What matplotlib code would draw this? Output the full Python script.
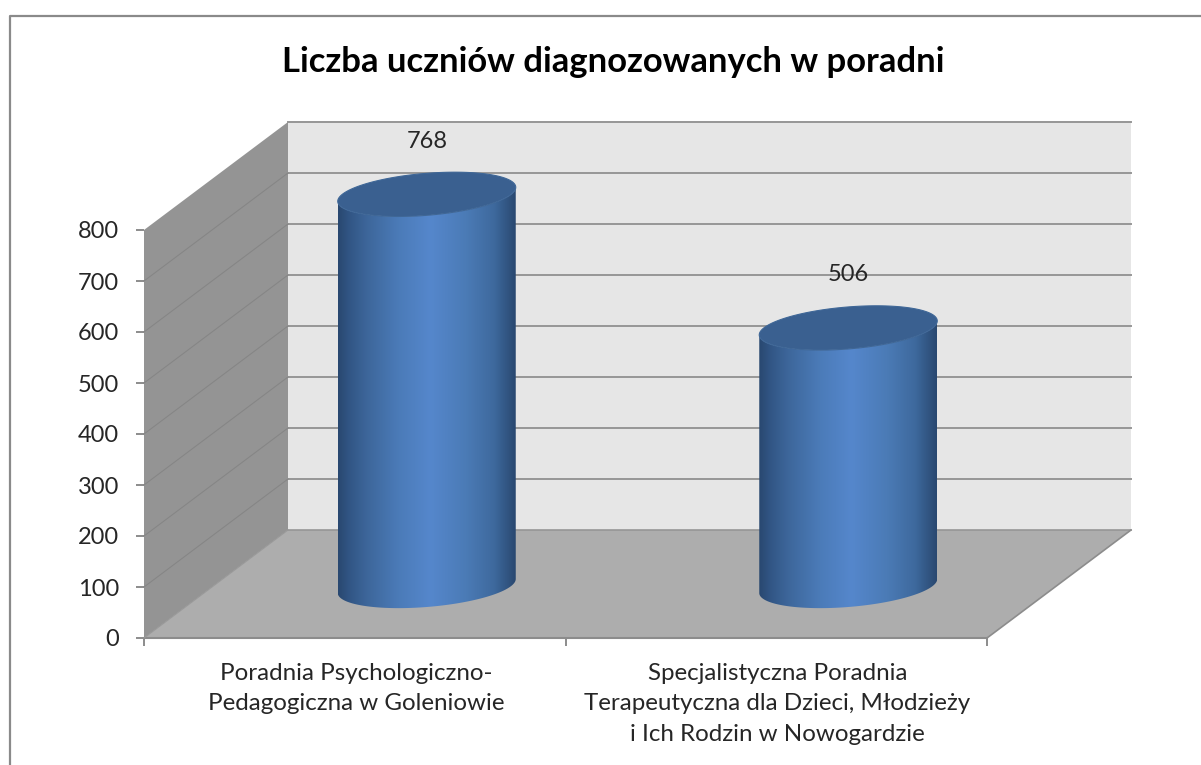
#!/usr/bin/python
import numpy as np
from matplotlib import pyplot as plt
from matplotlib.colors import LinearSegmentedColormap
from matplotlib.lines import Line2D
from matplotlib.patches import Polygon
from matplotlib.transforms import Affine2D

plt.rcParams['font.family'] = ['Lato', 'DejaVu Sans']

title = "Liczba uczniów diagnozowanych w poradni"
categories = ["Poradnia Psychologiczno-\nPedagogiczna w Goleniowie",
              "Specjalistyczna Poradnia\nTerapeutyczna dla Dzieci, Młodzieży\ni Ich Rodzin w Nowogardzie"]
values = [768, 506]
y_ticks = [0, 100, 200, 300, 400, 500, 600, 700, 800]

W, H = 1201, 765
fig = plt.figure(figsize=(W / 100, H / 100), dpi=100)
ax = fig.add_axes([144 / W, 1 - 638 / H, (987 - 144) / W, (638 - 230) / H])
ax.set_xlim(0, 2)
ax.set_ylim(0, 800)
ax.patch.set_visible(False)
for s in ["top", "right", "left"]:
    ax.spines[s].set_visible(False)
ax.spines["bottom"].set_color("#8c8c8c")
ax.spines["bottom"].set_linewidth(1.5)

ux = (987 - 144) / 2.0
uy = (638 - 230) / 800.0
dx, dy = 144, 108
back = ax.transData + Affine2D().translate(dx, dy)
mid = ax.transData + Affine2D().translate(dx / 2, dy / 2 - 2)

# walls and floor
ax.add_patch(Polygon([(0, 0), (0, 800), (dx / ux, 800 + dy / uy), (dx / ux, dy / uy)],
                     fc="#949494", ec="none", clip_on=False, zorder=1))
ax.add_patch(Polygon([(0, 0), (2, 0), (2, 800), (0, 800)], transform=back,
                     fc="#e6e6e6", ec="none", clip_on=False, zorder=1))
ax.add_patch(Polygon([(0, 0), (2, 0), (2 + dx / ux, dy / uy), (dx / ux, dy / uy)],
                     fc="#adadad", ec="none", clip_on=False, zorder=2))

# gridlines
for t in y_ticks[1:]:
    ax.plot([0, 2], [t, t], transform=back, color="#969696", lw=1.4, clip_on=False, zorder=2)
    if t < 800:
        ax.plot([0, dx / ux], [t, t + dy / uy], color="#868686", lw=0.8, clip_on=False, zorder=2)
ax.plot([0, 2], [0, 0], transform=back, color="#969696", lw=1.2, clip_on=False, zorder=3)
ax.plot([0, dx / ux], [0, dy / uy], color="#989898", lw=0.8, clip_on=False, zorder=3)
ax.plot([2, 2 + dx / ux], [0, dy / uy], color="#8c8c8c", lw=1.2, clip_on=False, zorder=3)

# cylinders
shade = LinearSegmentedColormap.from_list("cyl", [
    (0.0, "#294870"), (0.06, "#315584"), (0.16, "#3d669a"), (0.34, "#4b7bb8"),
    (0.52, "#5587cc"), (0.72, "#4b7bb6"), (0.88, "#3e699d"), (1.0, "#294870")])
t = np.linspace(0, 2 * np.pi, 200)
half_w = 89 / ux
for i, v in enumerate(values):
    cx = i + 0.5
    ex = half_w * np.cos(t)
    ey = (21 * np.sin(t) + 7 * np.cos(t)) / uy
    front = t[t >= np.pi]
    bx = cx + half_w * np.cos(front)
    by = (21 * np.sin(front) + 7 * np.cos(front)) / uy
    outline = np.r_[np.c_[bx, by], np.c_[bx[::-1], by[::-1] + v]]
    body = Polygon(outline, transform=mid, fc="none", ec="none", clip_on=False)
    ax.add_patch(body)
    im = ax.imshow(np.linspace(0, 1, 256).reshape(1, -1), cmap=shade, aspect="auto",
                   extent=[cx - half_w, cx + half_w, -60, v + 60], transform=mid, zorder=4)
    im.set_clip_box(fig.bbox)
    im.set_clip_path(body)
    ax.add_patch(Polygon(np.c_[cx + ex, v + ey], transform=mid, fc="#3a6090", ec="#3f6797",
                         lw=0.8, clip_on=False, zorder=5))
    ax.text(cx, v + 53 / uy, str(v), transform=mid, ha="center", va="center",
            fontsize=17, color="#262626", zorder=6, clip_on=False)

ax.set_xlim(0, 2)
ax.set_ylim(0, 800)
ax.set_xticks([0, 1, 2])
ax.set_xticklabels([])
ax.set_yticks(y_ticks)
ax.tick_params(axis="y", length=5.8, width=1.4, color="#8c8c8c", labelsize=17,
               labelcolor="#262626", pad=12)
ax.tick_params(axis="x", length=5.8, width=1.4, color="#8c8c8c")
for lab in ax.get_yticklabels():
    lab.set_verticalalignment("center_baseline")

for i, lab in enumerate(categories):
    ax.annotate(lab, xy=(i + 0.5, 0), xycoords="data", xytext=(1, -25), textcoords="offset pixels",
                ha="center", va="top", fontsize=17.4, color="#262626", linespacing=1.55)

fig.text(613 / W, 1 - 62 / H, title, ha="center", va="center", fontsize=24.9,
         fontweight="bold", color="black")

# chart frame, cut off at the right and bottom of the picture
fig.add_artist(Line2D([10 / W, 10 / W, 1], [0, 1 - 16 / H, 1 - 16 / H], color="#8a8a8a", lw=1.6))

fig.savefig("out.png", dpi=100)
